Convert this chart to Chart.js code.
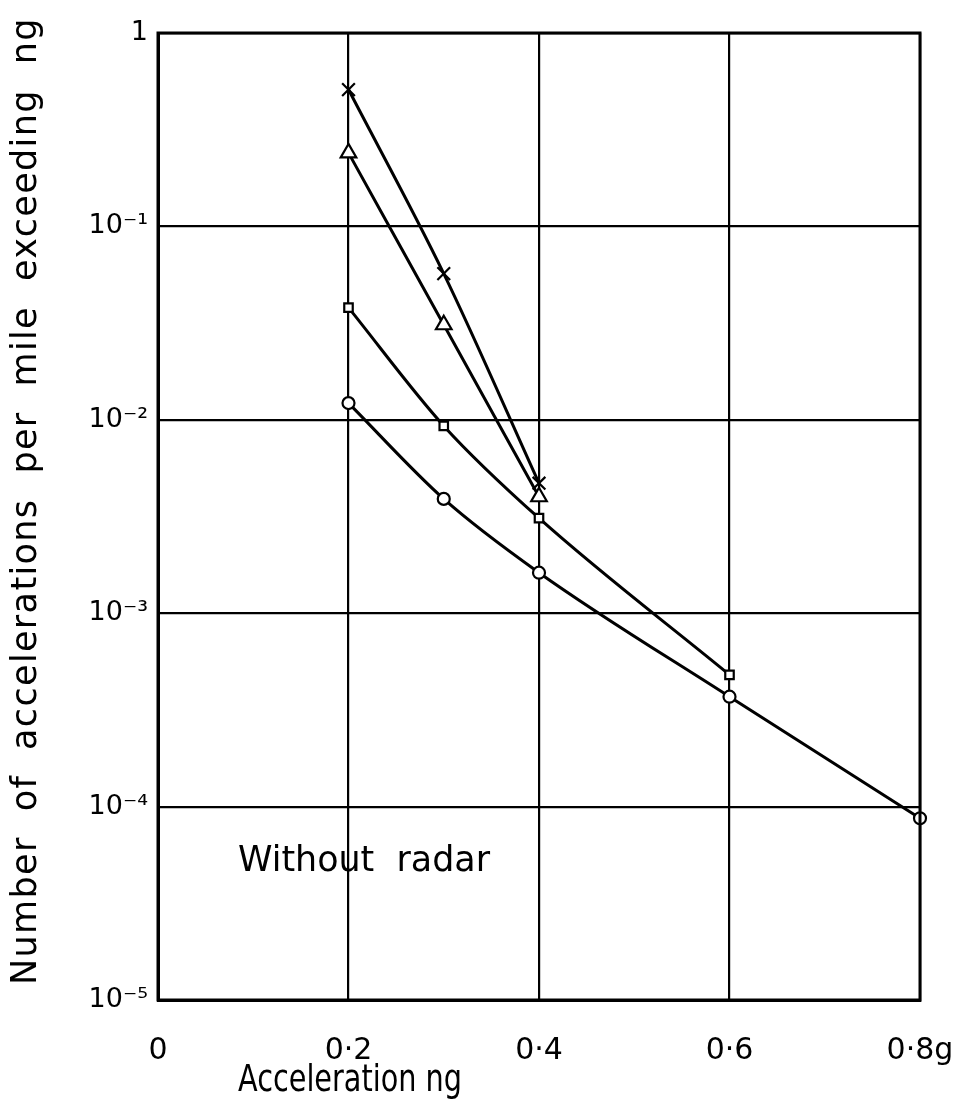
<!DOCTYPE html>
<html>
<head>
<meta charset="utf-8">
<script src="https://cdn.jsdelivr.net/npm/chart.js@4/dist/chart.umd.min.js"></script>
<style>
  html, body { margin: 0; padding: 0; background: #fff; }
  #wrap { width: 971px; height: 1113px; }
</style>
</head>
<body>
<div id="wrap"><canvas id="c" width="971" height="1113"></canvas></div>
<script>
const xTickValues = [0, 0.2, 0.4, 0.6, 0.8];
const xTickLabels = ['0', '0·2', '0·4', '0·6', '0·8g'];
const yTickValues = [1e-5, 1e-4, 1e-3, 1e-2, 1e-1, 1];
const yTickLabels = ['10⁻⁵', '10⁻⁴', '10⁻³', '10⁻²', '10⁻¹', '1'];

const crossX = [0.2, 0.3, 0.4];
const crossY = [0.51, 0.057, 0.0047];
const triX = [0.2, 0.3, 0.4];
const triY = [0.24, 0.031, 0.0040];
const sqX = [0.2, 0.3, 0.4, 0.6];
const sqY = [0.038, 0.0093, 0.0031, 0.00048];
const circX = [0.2, 0.3, 0.4, 0.6, 0.8];
const circY = [0.0122, 0.0039, 0.00162, 0.00037, 0.000087];

const xTitle = 'Acceleration ng';
const yTitle = 'Number  of  accelerations  per  mile  exceeding  ng';
const noteText = 'Without  radar';

const FONT = '"DejaVu Sans", sans-serif';

function pts(xs, ys) { return xs.map((x, i) => ({ x: x, y: ys[i] })); }

function ds(xs, ys, style, radius) {
  return {
    data: pts(xs, ys),
    borderColor: '#000',
    borderWidth: 3,
    pointStyle: style,
    pointRadius: radius,
    pointBorderWidth: 2.2,
    pointBorderColor: '#000',
    pointBackgroundColor: '#fff',
    cubicInterpolationMode: 'monotone',
    fill: false,
    clip: false
  };
}

// draw text fitted to a target length (horizontal squeeze or letter spacing)
function fitText(ctx, text, x, y, target) {
  const w = ctx.measureText(text).width;
  ctx.save();
  ctx.translate(x, y);
  if (w > target) {
    ctx.scale(target / w, 1);
    ctx.fillText(text, 0, 0);
  } else {
    ctx.letterSpacing = ((target - w) / text.length).toFixed(2) + 'px';
    ctx.fillText(text, 0, 0);
  }
  ctx.restore();
}

const textPlugin = {
  id: 'texts',
  afterDraw(chart) {
    const ctx = chart.ctx;
    const xs = chart.scales.x, ys = chart.scales.y;
    ctx.save();
    ctx.fillStyle = '#000';
    ctx.textAlign = 'left';
    ctx.textBaseline = 'middle';
    ctx.font = '38px ' + FONT;
    fitText(ctx, xTitle, 238, 1081, 224);
    ctx.font = '35px ' + FONT;
    fitText(ctx, noteText, xs.getPixelForValue(0.084), ys.getPixelForValue(5.2e-5), 252);
    ctx.save();
    ctx.translate(27, 985);
    ctx.rotate(-Math.PI / 2);
    ctx.font = '35px ' + FONT;
    fitText(ctx, yTitle, 0, 0, 968);
    ctx.restore();
    ctx.restore();
  }
};

new Chart(document.getElementById('c'), {
  type: 'line',
  data: {
    datasets: [
      ds(crossX, crossY, 'crossRot', 9),
      ds(triX, triY, 'triangle', 9),
      ds(sqX, sqY, 'rect', 6),
      ds(circX, circY, 'circle', 6)
    ]
  },
  options: {
    responsive: false,
    animation: false,
    layout: { padding: { top: 33, right: 51, left: 0, bottom: 0 } },
    plugins: { legend: { display: false }, tooltip: { enabled: false } },
    scales: {
      x: {
        type: 'linear',
        min: 0, max: 0.8,
        afterBuildTicks(scale) { scale.ticks = xTickValues.map(v => ({ value: v })); },
        afterFit(scale) { scale.height = 113; scale.paddingLeft = 0; scale.paddingRight = 0; },
        ticks: {
          color: '#000',
          font: { family: FONT, size: 30 },
          padding: 33,
          maxRotation: 0,
          callback(value) { const i = xTickValues.indexOf(value); return i >= 0 ? xTickLabels[i] : ''; }
        },
        grid: { color: '#000', lineWidth: 2.2, drawTicks: false },
        border: { color: '#000', width: 3 }
      },
      y: {
        type: 'logarithmic',
        min: 1e-5, max: 1,
        afterBuildTicks(scale) { scale.ticks = yTickValues.map(v => ({ value: v })); },
        afterFit(scale) { scale.width = 158; scale.paddingTop = 0; scale.paddingBottom = 0; },
        ticks: {
          color: '#000',
          font: { family: FONT, size: 27 },
          padding: 10,
          callback(value) {
            const i = yTickValues.findIndex(v => Math.abs(Math.log10(v) - Math.log10(value)) < 1e-6);
            return i >= 0 ? yTickLabels[i] : '';
          }
        },
        grid: { color: '#000', lineWidth: 2.2, drawTicks: false },
        border: { color: '#000', width: 3 }
      }
    }
  },
  plugins: [textPlugin, {
    id: 'frame',
    afterDatasetsDraw(chart) {
      const a = chart.chartArea, ctx = chart.ctx;
      ctx.save();
      ctx.strokeStyle = '#000';
      ctx.lineWidth = 3;
      ctx.strokeRect(a.left, a.top, a.right - a.left, a.bottom - a.top);
      ctx.restore();
    }
  }]
});
</script>
</body>
</html>
